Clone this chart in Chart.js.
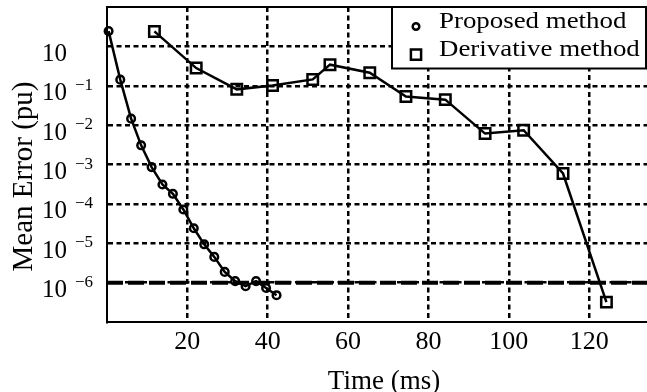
<!DOCTYPE html>
<html><head><meta charset="utf-8">
<script src="https://cdn.jsdelivr.net/npm/chart.js@4.4.0/dist/chart.umd.min.js"></script>
<style>
html,body{margin:0;padding:0;background:#fff;overflow:hidden;}
#wrap{width:647px;height:392px;position:relative;}
</style></head><body>
<div id="wrap"><canvas id="c" width="647" height="392"></canvas></div>
<script>
// ---- data ----
const proposedTime  = [0.4, 3.3, 6.0, 8.5, 11.1, 13.8, 16.4, 19.0, 21.6, 24.2, 26.7, 29.3, 31.9, 34.5, 37.1, 39.6, 42.2];
const proposedError = [2.44, 0.143, 0.0146, 3.07e-3, 8.6e-4, 3.1e-4, 1.8e-4, 7.2e-5, 2.4e-5, 9.4e-6, 4.5e-6, 1.87e-6, 1.09e-6, 8.1e-7, 1.09e-6, 7.3e-7, 4.8e-7];
const derivativeTime  = [11.8, 22.2, 32.3, 41.2, 51.2, 55.5, 65.4, 74.4, 84.2, 94.1, 103.7, 113.5, 124.3];
const derivativeError = [2.4, 0.281, 0.081, 0.102, 0.145, 0.343, 0.215, 0.053, 0.0444, 6.1e-3, 7.4e-3, 5.9e-4, 3.2e-7];
const thresholdError = 1e-6;
const seriesLabels = ['Proposed method', 'Derivative method'];
const xTickValues = [20, 40, 60, 80, 100, 120];
const yTickValues = [1, 0.1, 0.01, 1e-3, 1e-4, 1e-5, 1e-6];
const yTickBase = '10';
const yTickExponents = ['', '\u22121', '\u22122', '\u22123', '\u22124', '\u22125', '\u22126'];
const xAxisTitle = 'Time (ms)';
const yAxisTitle = 'Mean Error (pu)';
const xRange = [0, 134.4];
const yRange = [1e-7, 10];

const FAM = '"Liberation Serif", "Times New Roman", serif';

const toPoints = (xs, ys) => xs.map((x, i) => ({x: x, y: ys[i]}));

const frameAndLabels = {
  id: 'frameAndLabels',
  afterDraw(chart) {
    const ctx = chart.ctx, ca = chart.chartArea, ys = chart.scales.y;
    ctx.save();
    // top frame line
    ctx.strokeStyle = '#000'; ctx.lineWidth = 2;
    ctx.beginPath(); ctx.moveTo(ca.left - 1, ca.top); ctx.lineTo(ca.right, ca.top); ctx.stroke();
    // y tick labels 10^n
    ctx.fillStyle = '#000';
    ctx.textBaseline = 'alphabetic';
    yTickValues.forEach((v, i) => {
      const py = ys.getPixelForValue(v);
      ctx.font = '25px ' + FAM; ctx.textAlign = 'right';
      ctx.fillText(yTickBase, ca.left - 40, py + 14.5);
      if (yTickExponents[i]) {
        ctx.font = '17px ' + FAM; ctx.textAlign = 'right';
        ctx.fillText(yTickExponents[i], ca.left - 14, py + 4);
      }
    });
    // axis titles
    ctx.font = '27px ' + FAM; ctx.textAlign = 'center'; ctx.textBaseline = 'alphabetic';
    ctx.fillText(xAxisTitle, (ca.left + ca.right) / 2 + 7, chart.height - 3.5);
    ctx.save();
    ctx.translate(32, (ca.top + ca.bottom) / 2 + 12);
    ctx.rotate(-Math.PI / 2);
    ctx.font = '29px ' + FAM;
    ctx.fillText(yAxisTitle, 0, 0);
    ctx.restore();
    // legend
    const lx = ca.right - 255, ly = ca.top, lw = 254, lh = 61.5;
    ctx.fillStyle = '#fff'; ctx.fillRect(lx, ly, lw, lh);
    ctx.strokeStyle = '#000'; ctx.lineWidth = 2; ctx.strokeRect(lx, ly, lw, lh);
    const entries = [
      {ds: 0, my: 19.5, ty: 20.5, r: 3.3},
      {ds: 1, my: 47.7, ty: 49, r: 7.2}
    ];
    entries.forEach(e => {
      const ds = chart.data.datasets[e.ds];
      ctx.fillStyle = '#fff'; ctx.strokeStyle = '#000'; ctx.lineWidth = 2.5;
      Chart.helpers.drawPoint(ctx, {pointStyle: ds.pointStyle, radius: e.r, borderWidth: 2.5, rotation: 0}, lx + 24, ly + e.my);
      ctx.save();
      ctx.translate(lx + 47, ly + e.ty);
      ctx.scale(1.12, 1);
      ctx.fillStyle = '#000'; ctx.font = '24px ' + FAM; ctx.textAlign = 'left'; ctx.textBaseline = 'alphabetic';
      ctx.fillText(ds.label, 0, 0);
      ctx.restore();
    });
    ctx.restore();
  }
};

new Chart(document.getElementById('c'), {
  type: 'line',
  data: {
    datasets: [
      {label: seriesLabels[0], data: toPoints(proposedTime, proposedError), borderColor: '#000', borderWidth: 2.5,
       pointStyle: 'circle', pointRadius: 3.8, pointBorderWidth: 2.5, pointBorderColor: '#000',
       pointBackgroundColor: 'rgba(0,0,0,0)', tension: 0, clip: false},
      {label: seriesLabels[1], data: toPoints(derivativeTime, derivativeError), borderColor: '#000', borderWidth: 2.5,
       pointStyle: 'rect', pointRadius: 7.4, pointBorderWidth: 2.5, pointBorderColor: '#000',
       pointBackgroundColor: 'rgba(0,0,0,0)', tension: 0, clip: false},
      {label: 'threshold', data: toPoints(xRange, [thresholdError, thresholdError]), borderColor: '#000', borderWidth: 4,
       borderDash: [16, 5], pointRadius: 0, tension: 0}
    ]
  },
  options: {
    responsive: false, animation: false, devicePixelRatio: 1,
    layout: {autoPadding: false, padding: {top: 7, left: 0, right: 0, bottom: 0}},
    plugins: {legend: {display: false}, tooltip: {enabled: false}},
    scales: {
      x: {
        type: 'linear', min: xRange[0], max: xRange[1],
        afterBuildTicks: s => { s.ticks = xTickValues.map(v => ({value: v})); },
        afterFit: s => { s.height = 70; s.paddingLeft = 0; s.paddingRight = 0; },
        grid: {color: '#000', lineWidth: 2.5, drawTicks: false},
        border: {display: true, color: '#000', width: 2, dash: [5, 3.5]},
        ticks: {color: '#000', font: {family: FAM, size: 26}, padding: 5, maxRotation: 0, autoSkip: false},
        title: {display: false}
      },
      y: {
        type: 'logarithmic', min: yRange[0], max: yRange[1],
        afterBuildTicks: s => { s.ticks = yTickValues.map(v => ({value: v})); },
        afterFit: s => { s.width = 107; s.paddingTop = 0; s.paddingBottom = 0; },
        grid: {color: '#000', lineWidth: 2.5, drawTicks: false},
        border: {display: true, color: '#000', width: 2, dash: [5, 3.5]},
        ticks: {display: false},
        title: {display: false}
      }
    }
  },
  plugins: [frameAndLabels]
});
</script>
</body></html>
